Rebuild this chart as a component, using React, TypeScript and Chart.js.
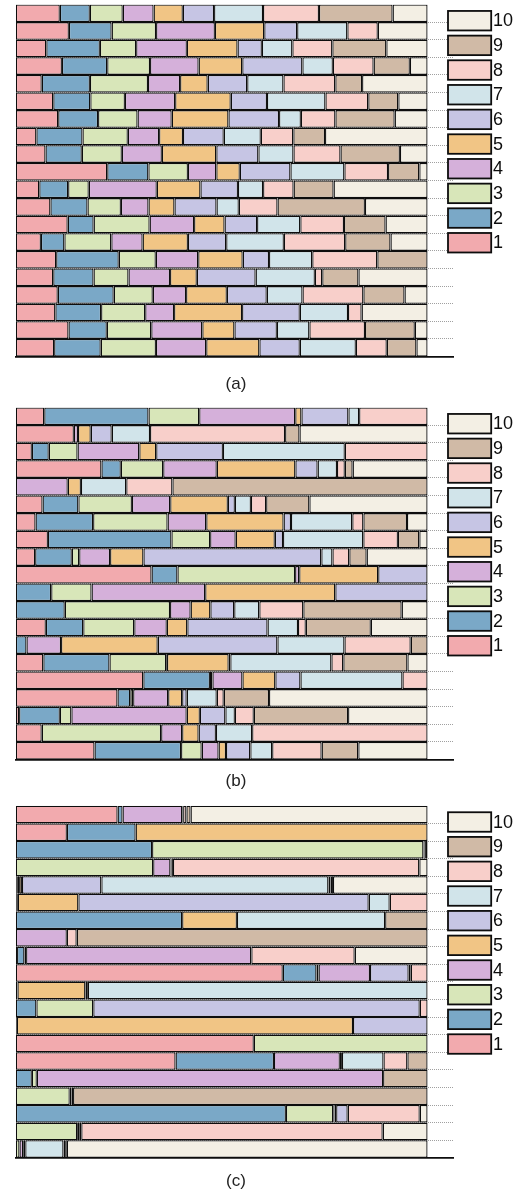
import { useEffect, useRef } from 'react';
import { Chart, registerables } from 'chart.js';

Chart.register(...registerables);

// Segment categories (left to right in every bar) and their fills
const SEGMENT_LABELS = ['1', '2', '3', '4', '5', '6', '7', '8', '9', '10'];
const SEGMENT_COLORS = [
  '#f2aaae', '#7aa8c7', '#d8e6b9', '#d5b0da', '#f1c585',
  '#c6c5e4', '#d1e4ea', '#f8cfca', '#d0baa6', '#f3efe4',
];

// Row identifiers (top to bottom)
const ROW_LABELS = ['r1', 'r2', 'r3', 'r4', 'r5', 'r6', 'r7', 'r8', 'r9', 'r10',
  'r11', 'r12', 'r13', 'r14', 'r15', 'r16', 'r17', 'r18', 'r19', 'r20'];

// Shares (%) of segments 1..10 in each row
const PANEL_A_ROWS = [
  [10.7, 7.3, 8.0, 7.5, 7.1, 7.6, 11.9, 13.6, 17.9, 8.5],
  [12.9, 10.4, 10.8, 14.3, 12.0, 8.0, 12.2, 7.4, 0, 12.1],
  [7.4, 13.0, 8.8, 12.3, 12.3, 5.9, 7.4, 9.7, 13.1, 10.0],
  [11.2, 11.0, 10.4, 11.8, 10.6, 14.6, 7.4, 9.9, 8.8, 4.3],
  [6.3, 11.7, 14.1, 7.8, 6.7, 9.6, 8.8, 12.6, 6.5, 15.9],
  [9.1, 9.0, 8.4, 12.2, 13.5, 8.8, 14.2, 10.4, 7.3, 7.1],
  [10.3, 9.7, 9.6, 8.3, 13.8, 12.3, 5.3, 8.4, 14.4, 8.0],
  [5.0, 11.2, 11.0, 7.6, 5.8, 9.9, 9.0, 7.9, 7.7, 24.9],
  [7.2, 8.8, 9.7, 9.7, 13.2, 10.2, 8.5, 11.4, 14.4, 6.7],
  [22.2, 10.0, 9.6, 6.9, 5.7, 12.3, 13.1, 10.6, 7.6, 2.0],
  [5.7, 7.0, 5.0, 16.5, 10.6, 9.1, 6.1, 7.4, 9.7, 22.8],
  [8.4, 9.0, 8.1, 6.7, 6.3, 10.2, 5.4, 9.4, 21.2, 15.2],
  [12.6, 6.3, 13.6, 10.8, 7.4, 7.9, 10.5, 10.6, 10.1, 10.2],
  [6.1, 5.7, 11.4, 7.6, 11.0, 9.3, 14.0, 14.9, 11.0, 9.0],
  [9.8, 15.2, 9.0, 10.3, 10.8, 6.4, 10.5, 15.8, 12.2, 0],
  [9.1, 9.8, 8.5, 10.1, 6.5, 14.3, 14.4, 1.8, 8.8, 16.8],
  [10.2, 13.6, 9.5, 8.1, 9.9, 9.7, 8.7, 14.8, 10.0, 5.6],
  [9.6, 11.1, 10.7, 7.0, 16.5, 14.0, 11.7, 3.3, 0, 16.0],
  [12.8, 9.3, 10.8, 12.4, 7.8, 10.3, 7.9, 13.5, 12.1, 3.1],
  [9.3, 11.3, 13.4, 12.2, 12.9, 9.8, 13.6, 7.5, 7.2, 2.7],
];

const PANEL_B_ROWS = [
  [6.9, 25.3, 12.3, 23.3, 1.5, 11.4, 2.6, 16.6, 0, 0],
  [14.1, 0, 0, 1.0, 3.1, 5.1, 9.3, 32.8, 3.5, 31.1],
  [3.9, 4.1, 7.0, 15.0, 4.1, 16.2, 29.6, 20.1, 0, 0],
  [20.8, 4.7, 10.3, 13.0, 19.1, 5.4, 4.7, 1.9, 1.9, 18.2],
  [0, 0, 0, 12.6, 3.2, 0, 11.0, 11.2, 61.9, 0],
  [6.5, 8.7, 13.0, 9.3, 14.0, 1.7, 3.9, 3.7, 10.5, 28.7],
  [4.8, 14.0, 18.1, 9.4, 18.8, 1.8, 14.9, 2.7, 10.6, 5.0],
  [7.8, 30.0, 9.4, 6.2, 9.5, 2.0, 19.5, 8.4, 5.2, 2.0],
  [4.7, 8.9, 1.8, 7.5, 8.1, 43.2, 2.7, 4.1, 4.2, 14.8],
  [33.0, 6.3, 28.6, 1.0, 19.2, 12.0, 0, 0, 0, 0],
  [0, 8.6, 9.8, 27.6, 31.6, 22.4, 0, 0, 0, 0],
  [0, 11.9, 25.6, 5.0, 4.8, 5.8, 6.1, 10.7, 23.9, 6.3],
  [7.3, 9.1, 12.4, 7.9, 5.0, 19.5, 7.4, 1.9, 15.8, 13.8],
  [0, 2.6, 0, 8.4, 23.5, 29.1, 16.3, 16.1, 4.1, 0],
  [6.7, 16.1, 13.8, 0.2, 15.0, 0.4, 24.6, 2.9, 15.6, 4.9],
  [31.0, 16.2, 0.6, 7.3, 8.0, 6.1, 24.8, 6.1, 0, 0],
  [24.7, 3.1, 0.7, 8.5, 3.4, 1.1, 7.3, 1.7, 11.0, 38.5],
  [0.8, 9.9, 2.8, 28.0, 3.2, 6.2, 2.3, 4.6, 22.9, 19.3],
  [6.3, 0, 29.0, 5.1, 4.0, 4.2, 8.8, 42.6, 0, 0],
  [19.1, 21.0, 5.0, 4.1, 1.8, 5.9, 5.3, 12.0, 8.9, 16.8],
];

const PANEL_C_ROWS = [
  [24.7, 1.2, 0, 14.5, 0, 0, 0.2, 0.8, 1.0, 57.5],
  [12.4, 16.7, 0, 0, 70.9, 0, 0, 0, 0, 0],
  [0, 33.1, 65.9, 0, 0, 0, 0, 0.3, 0.3, 0.4],
  [0, 0, 33.4, 4.2, 0.3, 0, 0.3, 59.9, 0, 2.0],
  [0.25, 0.25, 0, 0.3, 0.7, 19.3, 55.2, 0.5, 0.6, 23.0],
  [0.25, 0, 0, 0.25, 14.7, 70.5, 5.1, 9.2, 0, 0],
  [0, 40.4, 0, 0, 13.3, 0, 36.0, 0, 10.3, 0],
  [0, 0, 0, 12.4, 0, 0, 0, 2.4, 85.3, 0],
  [0.3, 1.8, 0.4, 54.7, 0, 0, 0, 25.1, 0, 17.7],
  [64.9, 8.2, 0.5, 12.5, 0, 9.4, 0.5, 4.1, 0, 0],
  [0.4, 0, 0, 0, 16.5, 0.6, 82.5, 0, 0, 0],
  [0, 5.0, 13.8, 0, 0, 79.2, 0, 1.9, 0, 0],
  [0.25, 0, 0, 0, 81.6, 18.1, 0, 0, 0, 0],
  [57.8, 0, 42.2, 0, 0, 0, 0, 0, 0, 0],
  [38.8, 23.9, 0, 16.0, 0, 0.5, 10.1, 5.8, 4.9, 0],
  [0, 3.9, 1.2, 84.1, 0, 0, 0, 0, 10.8, 0],
  [0, 0, 13.1, 0, 0, 0.4, 0, 0.4, 86.1, 0],
  [0, 65.6, 11.5, 0.3, 0.4, 2.8, 0, 17.5, 0, 1.9],
  [0, 0, 14.9, 0.5, 0, 0.5, 0, 73.2, 0, 10.9],
  [0, 0, 0.9, 0.9, 0, 0.5, 9.3, 0.4, 0.4, 87.7],
];

const PANEL_CAPTIONS = ['(a)', '(b)', '(c)'];

const INK = '#0d0d0d';
const FONT = '"Liberation Sans", Arial, Helvetica, sans-serif';
// x range beyond 100% leaves the strip where the dotted row separators show
const X_MAX = 106.25;

type PanelProps = {
  rows: number[][];
  caption: string;
  top: number;
  height: number;
  padTop: number;
  padBottom: number;
  captionY: number;
};

function Panel({ rows, caption, top, height, padTop, padBottom, captionY }: PanelProps) {
  const canvasRef = useRef<HTMLCanvasElement | null>(null);

  useEffect(() => {
    const canvas = canvasRef.current;
    if (!canvas) return;

    const totals = rows.map((r) => r.reduce((s, v) => s + v, 0));
    const datasets = SEGMENT_LABELS.map((label, k) => ({
      label,
      data: rows.map((r, i) => (r[k] > 0 ? (r[k] / totals[i]) * 100 : null)),
      backgroundColor: SEGMENT_COLORS[k],
      borderColor: INK,
      borderWidth: 1.3,
      borderSkipped: false as const,
      inflateAmount: 0,
      barPercentage: 1,
      categoryPercentage: 1,
    }));

    const sideLegend = {
      id: 'sideLegend',
      afterDraw(chart: Chart) {
        const { ctx, chartArea } = chart;
        ctx.save();
        const n = chart.data.datasets.length;
        for (let i = 0; i < n; i++) {
          const ds = chart.data.datasets[n - 1 - i];
          const y = chartArea.top + 6.45 + i * 24.67;
          ctx.fillStyle = ds.backgroundColor as string;
          ctx.fillRect(448, y, 43.2, 19.5);
          ctx.lineWidth = 1.8;
          ctx.strokeStyle = INK;
          ctx.strokeRect(448, y, 43.2, 19.5);
          ctx.fillStyle = INK;
          ctx.font = `18px ${FONT}`;
          ctx.textAlign = 'left';
          ctx.textBaseline = 'middle';
          ctx.fillText(ds.label as string, 493, y + 10.5);
        }
        ctx.font = `17px ${FONT}`;
        ctx.textAlign = 'center';
        ctx.textBaseline = 'middle';
        ctx.fillStyle = '#222';
        ctx.fillText(caption, 236, captionY);
        ctx.restore();
      },
    };

    const chart = new Chart(canvas, {
      type: 'bar',
      data: { labels: ROW_LABELS, datasets },
      options: {
        indexAxis: 'y',
        responsive: false,
        animation: false,
        events: [],
        layout: { padding: { left: 15.8, right: 67.7, top: padTop, bottom: padBottom } },
        plugins: {
          legend: { display: false },
          tooltip: { enabled: false },
          title: { display: false },
        },
        scales: {
          x: {
            stacked: true,
            min: 0,
            max: X_MAX,
            display: true,
            ticks: { display: false },
            grid: { display: false, drawTicks: false },
            border: { display: true, color: INK, width: 1.8 },
          },
          y: {
            stacked: true,
            display: true,
            ticks: { display: false },
            grid: {
              display: true,
              drawTicks: false,
              offset: true,
              lineWidth: 1,
              color: (ctx: any) =>
                ctx.type !== 'tick' || ctx.index === 0 ? 'rgba(0,0,0,0)' : '#a0a0a0',
            },
            border: { display: false, dash: [1, 1] },
          },
        },
      },
      plugins: [sideLegend],
    });

    return () => chart.destroy();
  }, [rows, caption, padTop, padBottom, captionY]);

  return (
    <div style={{ position: 'absolute', left: 0, top, width: 521, height }}>
      <canvas ref={canvasRef} width={521} height={height} style={{ display: 'block' }} />
    </div>
  );
}

export default function App() {
  return (
    <div style={{ position: 'absolute', left: 0, top: 0, width: 521, height: 1193, background: '#fff' }}>
      <Panel rows={PANEL_A_ROWS} caption={PANEL_CAPTIONS[0]} top={0} height={400}
        padTop={4.5} padBottom={43.5} captionY={384} />
      <Panel rows={PANEL_B_ROWS} caption={PANEL_CAPTIONS[1]} top={400} height={400}
        padTop={7.5} padBottom={40.5} captionY={381} />
      <Panel rows={PANEL_C_ROWS} caption={PANEL_CAPTIONS[2]} top={800} height={393}
        padTop={5.8} padBottom={35.2} captionY={381} />
    </div>
  );
}
